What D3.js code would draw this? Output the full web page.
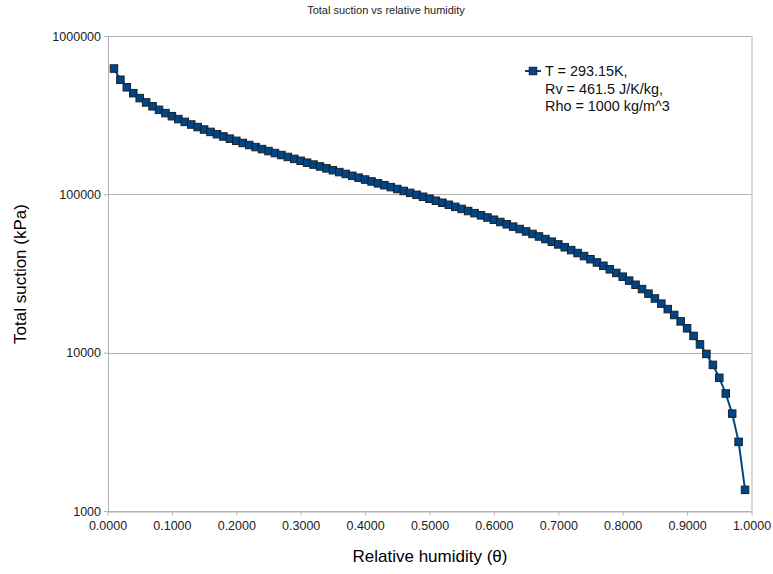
<!DOCTYPE html>
<html>
<head>
<meta charset="utf-8">
<script src="https://cdn.jsdelivr.net/npm/d3@7"></script>
<style>
  body { margin: 0; background: #fff; }
  svg { font-family: "Liberation Sans", Arial, sans-serif; }
  .grid line { stroke: #b3b3b3; stroke-width: 1; }
  .axis path, .axis line { stroke: #b3b3b3; }
  .axis text { fill: #222; font-size: 12.5px; }
</style>
</head>
<body>
<svg id="chart" width="773" height="574"></svg>
<script>
// relative humidity values (x)
var humidity = [0.01,0.02,0.03,0.04,0.05,0.06,0.07,0.08,0.09,0.10,
    0.11,0.12,0.13,0.14,0.15,0.16,0.17,0.18,0.19,0.20,
    0.21,0.22,0.23,0.24,0.25,0.26,0.27,0.28,0.29,0.30,
    0.31,0.32,0.33,0.34,0.35,0.36,0.37,0.38,0.39,0.40,
    0.41,0.42,0.43,0.44,0.45,0.46,0.47,0.48,0.49,0.50,
    0.51,0.52,0.53,0.54,0.55,0.56,0.57,0.58,0.59,0.60,
    0.61,0.62,0.63,0.64,0.65,0.66,0.67,0.68,0.69,0.70,
    0.71,0.72,0.73,0.74,0.75,0.76,0.77,0.78,0.79,0.80,
    0.81,0.82,0.83,0.84,0.85,0.86,0.87,0.88,0.89,0.90,
    0.91,0.92,0.93,0.94,0.95,0.96,0.97,0.98,0.99];

// total suction in kPa (y)
var suction = [623027,529252,474398,435478,405288,380622,359768,341703,325768,311514,
    298619,286847,276018,265992,256658,247927,239726,231993,224678,217739,
    211138,204845,198831,193073,187549,182243,177137,172218,167469,162883,
    158447,154152,149989,145950,142028,138217,134510,130902,127388,123963,
    120622,117362,114179,111069,108029,105055,102145,99297,96507,93774,
    91094,88468,85891,83363,80880,78443,76048,73695,71382,69108,
    66872,64672,62508,60377,58279,56214,54179,52175,50199,48253,
    46334,44442,42576,40736,38920,37128,35359,33613,31890,30188,
    28508,26848,25208,23587,21987,20404,18840,17294,15765,14254,
    12759,11280,9818,8372,6939,5523,4121,2733,1360];

var xTicks = [0,0.1,0.2,0.3,0.4,0.5,0.6,0.7,0.8,0.9,1.0];
var yTicks = [1000,10000,100000,1000000];
var legendLines = ["T = 293.15K,", "Rv = 461.5 J/K/kg,", "Rho = 1000 kg/m^3"];

var plotLeft = 107.5, plotRight = 751.5, plotTop = 36, plotBottom = 511;
var svg = d3.select("#chart");

var xscale = d3.scaleLinear().domain([0,1]).range([plotLeft,plotRight]);
var yscale = d3.scaleLog().domain([1000,1000000]).range([plotBottom,plotTop]);

// gridlines
svg.append("g").attr("class","grid")
    .selectAll("line")
    .data(yTicks)
    .enter()
    .append("line")
    .attr("x1",plotLeft).attr("x2",plotRight)
    .attr("y1",function(d){ return Math.round(yscale(d))+0.5; })
    .attr("y2",function(d){ return Math.round(yscale(d))+0.5; });

// right border
svg.append("line")
    .attr("x1",plotRight+0.5).attr("x2",plotRight+0.5)
    .attr("y1",plotTop).attr("y2",plotBottom)
    .attr("stroke","#b3b3b3");

var xAxis = d3.axisBottom(xscale)
    .tickValues(xTicks)
    .tickFormat(d3.format(".4f"))
    .tickSize(4)
    .tickSizeOuter(0);
svg.append("g").attr("class","axis")
    .attr("transform","translate(0,"+(plotBottom+0.5)+")")
    .call(xAxis)
    .selectAll("text").attr("dy","0.9em");

var yAxis = d3.axisLeft(yscale)
    .tickValues(yTicks)
    .tickFormat(d3.format("d"))
    .tickSize(4)
    .tickSizeOuter(0);
svg.append("g").attr("class","axis")
    .attr("transform","translate("+(plotLeft+0.5)+",0)")
    .call(yAxis);

// the series
var pts = humidity.map(function(h,i){ return [h, suction[i]]; });
var line = d3.line()
    .x(function(d){ return xscale(d[0]); })
    .y(function(d){ return yscale(d[1]); });

svg.append("path")
    .datum(pts)
    .attr("d",line)
    .attr("fill","none")
    .attr("stroke","#004586")
    .attr("stroke-width",2);

var ms = 7.5;
svg.append("g")
    .selectAll("rect")
    .data(pts)
    .enter()
    .append("rect")
    .attr("x",function(d){ return xscale(d[0])-ms/2; })
    .attr("y",function(d){ return yscale(d[1])-ms/2; })
    .attr("width",ms).attr("height",ms)
    .attr("fill","#004586")
    .attr("stroke","#17222e")
    .attr("stroke-width",1);

// titles
svg.append("text")
    .attr("x",386).attr("y",14)
    .attr("text-anchor","middle")
    .attr("font-size","11px")
    .attr("fill","#222")
    .text("Total suction vs relative humidity");

svg.append("text")
    .attr("x",430).attr("y",562)
    .attr("text-anchor","middle")
    .attr("font-size","17px")
    .text("Relative humidity (θ)");

svg.append("text")
    .attr("transform","translate(26,274) rotate(-90)")
    .attr("text-anchor","middle")
    .attr("font-size","17px")
    .text("Total suction (kPa)");

// legend
var lg = svg.append("g").attr("transform","translate(525,71)");
lg.append("line").attr("x1",0).attr("x2",16).attr("y1",0).attr("y2",0)
    .attr("stroke","#004586").attr("stroke-width",2);
lg.append("rect").attr("x",8-ms/2).attr("y",-ms/2).attr("width",ms).attr("height",ms)
    .attr("fill","#004586").attr("stroke","#17222e");
lg.selectAll("text.leg")
    .data(legendLines)
    .enter()
    .append("text")
    .attr("class","leg")
    .attr("x",20)
    .attr("y",function(d,i){ return 5+i*17.5; })
    .attr("font-size","14.4px")
    .attr("fill","#111")
    .text(function(d){ return d; });
</script>
</body>
</html>
